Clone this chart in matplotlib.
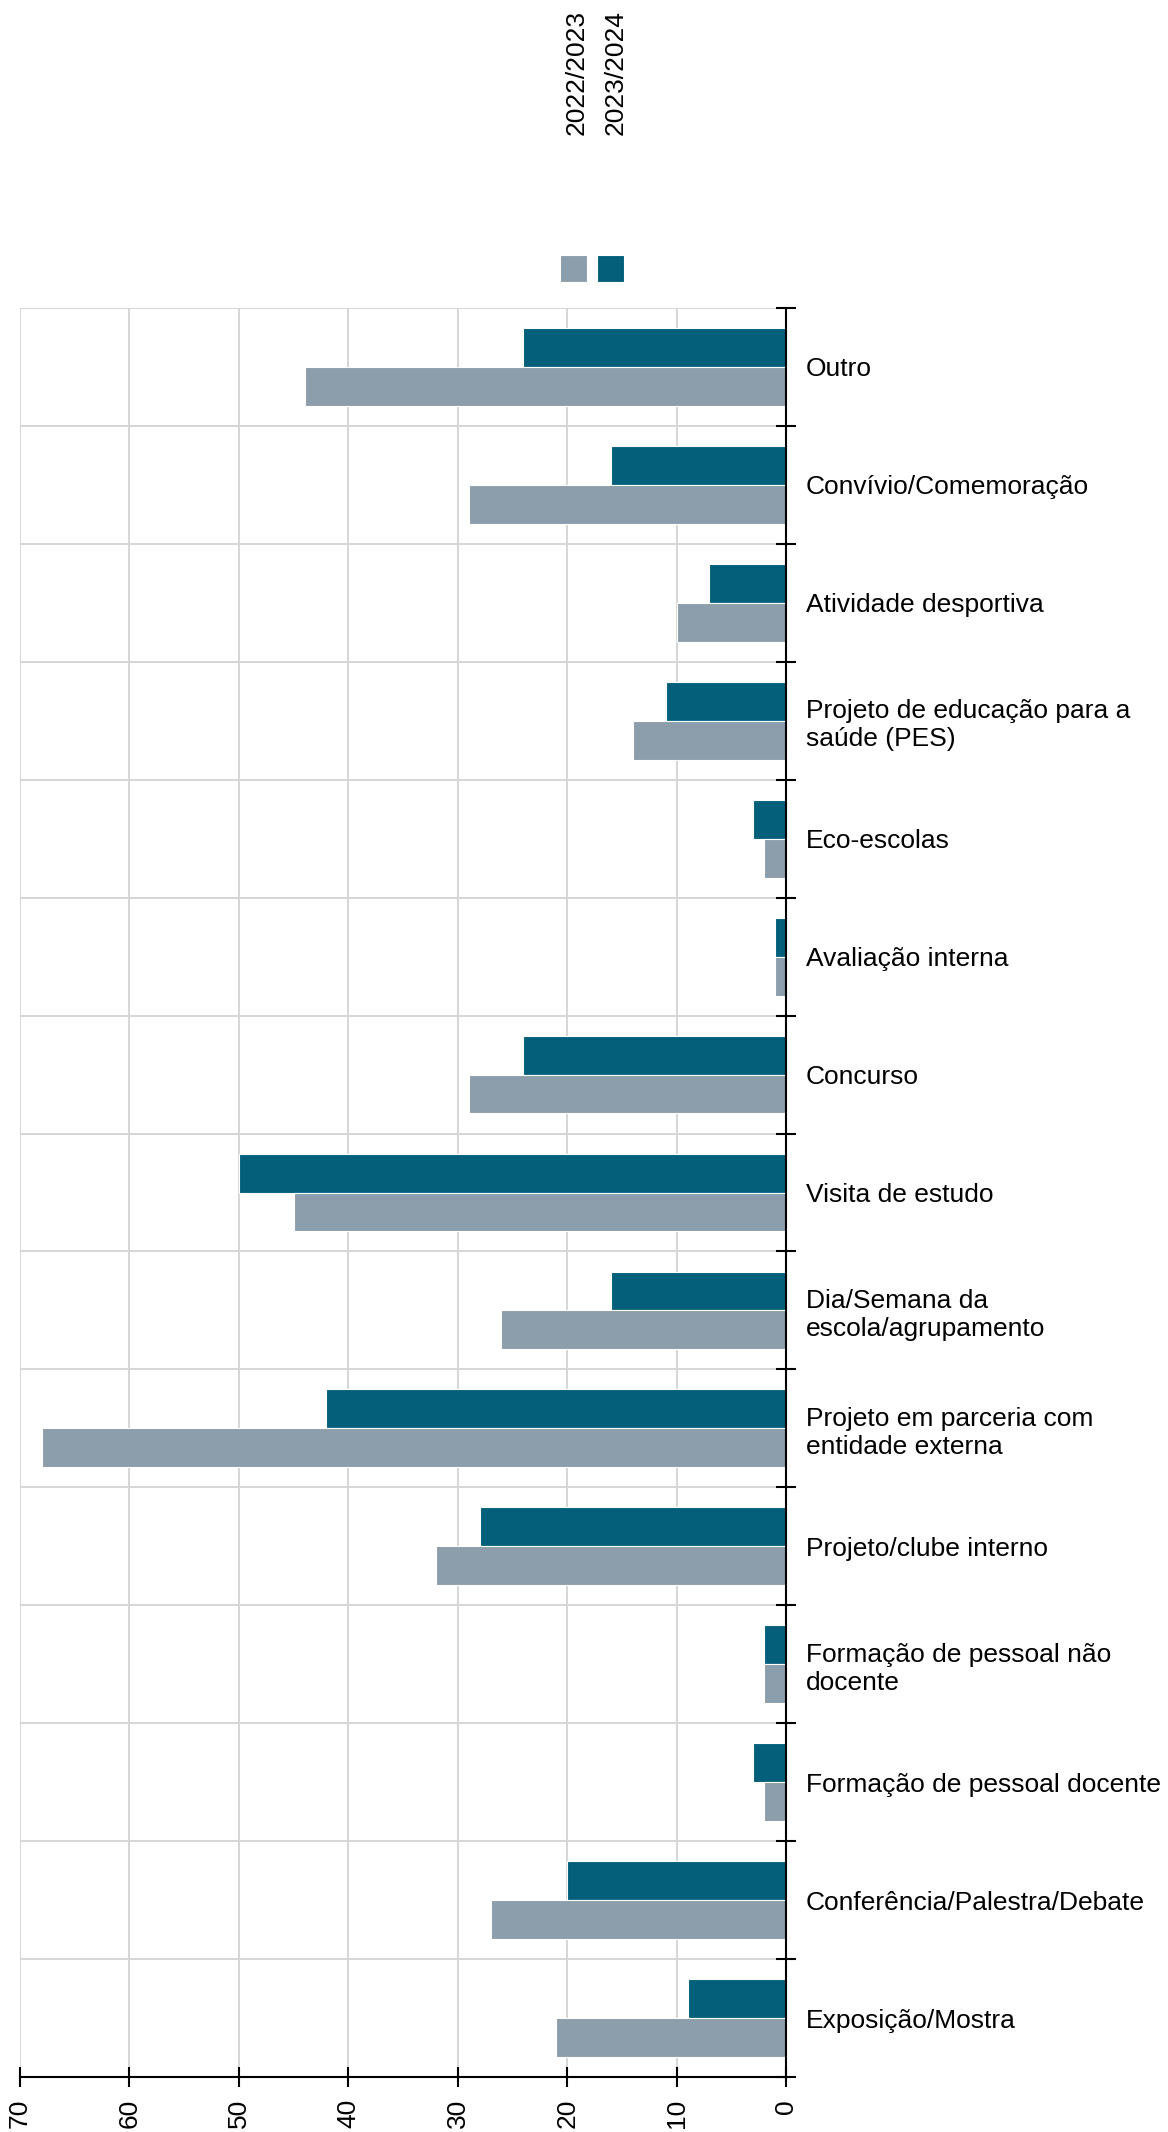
import numpy as np
import matplotlib
matplotlib.use("Agg")
import matplotlib.pyplot as plt
from matplotlib.patches import Rectangle

plt.rcParams['font.family'] = ['Liberation Sans', 'DejaVu Sans']

categories = [
    'Outro',
    'Convívio/Comemoração',
    'Atividade desportiva',
    'Projeto de educação para a\nsaúde (PES)',
    'Eco-escolas',
    'Avaliação interna',
    'Concurso',
    'Visita de estudo',
    'Dia/Semana da\nescola/agrupamento',
    'Projeto em parceria com\nentidade externa',
    'Projeto/clube interno',
    'Formação de pessoal não\ndocente',
    'Formação de pessoal docente',
    'Conferência/Palestra/Debate',
    'Exposição/Mostra',
]
series_names = ['2022/2023', '2023/2024']
values_2022 = [44, 29, 10, 14, 2, 1, 29, 45, 26, 68, 32, 2, 2, 27, 21]
values_2023 = [24, 16, 7, 11, 3, 1, 24, 50, 16, 42, 28, 2, 3, 20, 9]
x_ticks = [0, 10, 20, 30, 40, 50, 60, 70]

GRAY = '#8c9dab'
TEAL = '#045f7a'
GRID = '#d6d6d6'
FS = 19

W, H = 1168, 2132
fig = plt.figure(figsize=(W / 100, H / 100), dpi=100)
ax = fig.add_axes([20 / W, 55 / H, 766 / W, 1769 / H])

y = np.arange(len(categories))
bh = 0.33
ax.barh(y - bh / 2, values_2023, height=bh, color=TEAL, edgecolor='white', linewidth=0.8)
ax.barh(y + bh / 2, values_2022, height=bh, color=GRAY, edgecolor='white', linewidth=0.8)

ax.set_xlim(70, 0)
ax.set_ylim(len(categories) - 0.5, -0.5)
ax.set_axisbelow(True)

ax.set_xticks(x_ticks)
ax.set_xticklabels([str(t) for t in x_ticks])
ax.set_yticks(y)
ax.set_yticklabels(categories)
ax.set_yticks(np.arange(-0.5, len(categories), 1), minor=True)

ax.yaxis.tick_right()
ax.tick_params(axis='y', which='major', length=0, pad=14.4, labelsize=FS, labelright=True, labelleft=False)
ax.tick_params(axis='y', which='minor', direction='inout', length=14.4, width=1.5, right=True, left=False, color='black')
ax.tick_params(axis='x', which='major', direction='inout', length=14.4, width=1.5, pad=8.6, labelsize=FS,
               labelrotation=90)

ax.grid(axis='x', which='major', color=GRID, linewidth=1.4)
ax.grid(axis='y', which='minor', color=GRID, linewidth=1.4)

for side in ['top', 'left']:
    ax.spines[side].set_visible(False)
for side in ['right', 'bottom']:
    ax.spines[side].set_linewidth(1.5)
    ax.spines[side].set_color('black')

# legend: squares with vertical labels above
for x0, col, name, tx in [(560, GRAY, series_names[0], 576.5), (597, TEAL, series_names[1], 615.5)]:
    fig.add_artist(Rectangle((x0 / W, 1 - 282 / H), 27 / W, 27 / H, transform=fig.transFigure,
                             facecolor=col, edgecolor='white', linewidth=0.8))
    fig.text(tx / W, 1 - 135 / H, name, rotation=90, ha='center', va='bottom', fontsize=FS)

fig.savefig('out.png', dpi=100)
